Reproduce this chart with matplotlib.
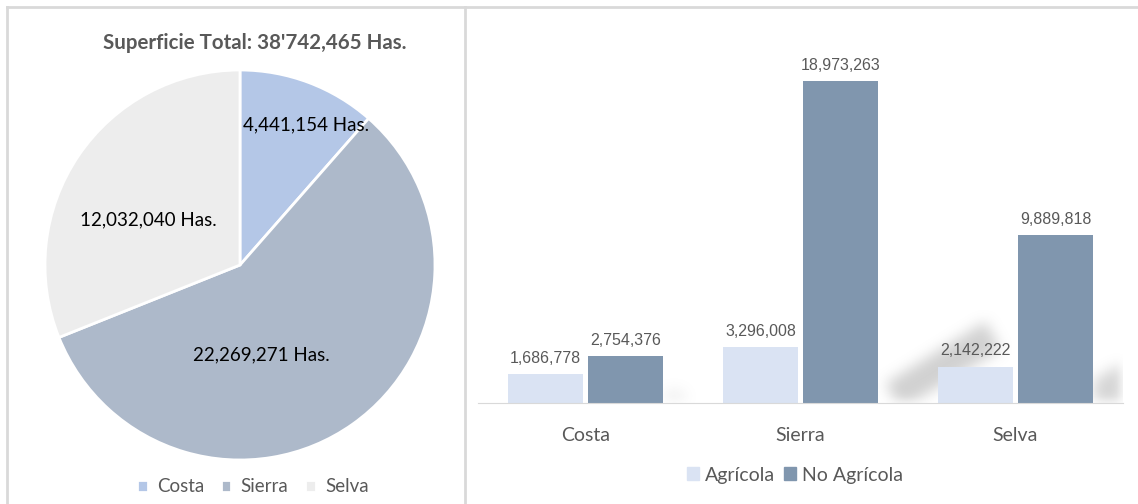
import matplotlib.pyplot as plt
import numpy as np
from matplotlib.patches import Patch
from matplotlib.path import Path

# pie data
regions = ["Costa", "Sierra", "Selva"]
superficie = [4441154, 22269271, 12032040]
pie_colors = ["#b4c7e7", "#adb9ca", "#ededed"]

# bar data
agricola = [1686778, 3296008, 2142222]
no_agricola = [2754376, 18973263, 9889818]
series_names = ["Agrícola", "No Agrícola"]
bar_colors = ["#dae3f3", "#8096ae"]

W, H = 1138, 504
fig = plt.figure(figsize=(W / 100, H / 100), dpi=100)
gray = "#595959"

# panel borders
border = "#d9d9d9"
fig.add_artist(plt.Line2D([7 / W, 1], [1 - 7 / H] * 2, color=border, lw=2))
fig.add_artist(plt.Line2D([7 / W] * 2, [0, 1 - 7 / H], color=border, lw=2))
fig.add_artist(plt.Line2D([465 / W] * 2, [0, 1 - 7 / H], color=border, lw=2))

# ---- pie ----
ax1 = fig.add_axes([45 / W, 1 - 460 / H, 390 / W, 390 / H])
wedges, _ = ax1.pie(superficie, colors=pie_colors, startangle=90, counterclock=False,
                    wedgeprops=dict(edgecolor="white", linewidth=2))
ax1.set_xlim(-1, 1)
ax1.set_ylim(-1, 1)
ax1.set_aspect("equal")
label_pos = [(0.34, 0.72), (0.11, -0.46), (-0.47, 0.23)]
for v, (x, y) in zip(superficie, label_pos):
    ax1.text(x, y, f"{v:,} Has.", ha="center", va="center", fontsize=13.5,
             family="Lato", color="black")
fig.text(255 / W, 1 - 43 / H, "Superficie Total: 38'742,465 Has.", ha="center", va="center",
         fontsize=14.8, fontweight="bold", color=gray, family="Lato")
fig.legend(wedges, regions, loc="center", bbox_to_anchor=(253 / W, 1 - 487 / H),
           ncol=3, frameon=False, handlelength=0.55, handleheight=0.55,
           columnspacing=0.9, handletextpad=0.5, labelcolor=gray,
           prop={"family": "Lato", "size": 13.5})

# ---- bars ----
ax2 = fig.add_axes([478 / W, 1 - 403 / H, 645 / W, 373 / H])

# soft drop-shadow smudges seen behind the bars
nx, ny = 645, 373
gx, gy = np.meshgrid(np.arange(nx) + 478, 403 - np.arange(ny))
pts = np.column_stack([gx.ravel(), gy.ravel()])
mask = np.zeros(nx * ny)
for poly, strength in [([(885, 384), (985, 322), (1000, 350), (900, 410)], 1.0),
                       ([(1093, 410), (1130, 410), (1130, 360), (1093, 380)], 0.9),
                       ([(663, 410), (692, 410), (680, 390), (663, 392)], 0.35)]:
    mask += strength * Path(poly).contains_points(pts)
mask = mask.reshape(ny, nx)
k = np.ones(13) / 13
for _ in range(3):
    mask = np.apply_along_axis(lambda r: np.convolve(r, k, mode="same"), 1, mask)
    mask = np.apply_along_axis(lambda c: np.convolve(c, k, mode="same"), 0, mask)
rgba = np.zeros((ny, nx, 4))
rgba[..., :3] = 0.6
rgba[..., 3] = np.clip(mask, 0, 1) * 0.45
ax2.imshow(rgba, extent=[-0.5, 2.5, 0, 22e6], origin="lower", aspect="auto", zorder=0)

x = np.arange(len(regions))
bw = 0.353
off = 0.186
b1 = ax2.bar(x - off, agricola, bw, color=bar_colors[0], label=series_names[0], zorder=2)
b2 = ax2.bar(x + off, no_agricola, bw, color=bar_colors[1], label=series_names[1], zorder=2)
for bars, vals in [(b1, agricola), (b2, no_agricola)]:
    for r, v in zip(bars, vals):
        ax2.text(r.get_x() + r.get_width() / 2, v + 500000, f"{v:,}", ha="center", va="bottom",
                 fontsize=11.5, color=gray, family="Liberation Sans", zorder=3)
ax2.set_xlim(-0.5, 2.5)
ax2.set_ylim(0, 22e6)
ax2.set_yticks([])
ax2.set_xticks(x)
ax2.set_xticklabels(regions, fontsize=14, color=gray, family="Lato")
ax2.tick_params(axis="x", length=0, pad=17)
for s in ["top", "left", "right"]:
    ax2.spines[s].set_visible(False)
ax2.spines["bottom"].set_color("#d9d9d9")
fig.legend(handles=[Patch(color=c) for c in bar_colors], labels=series_names, loc="center",
           bbox_to_anchor=(795 / W, 1 - 475 / H), ncol=2, frameon=False,
           handlelength=0.6, handleheight=0.6, handletextpad=0.3, columnspacing=0.5,
           labelcolor=gray, prop={"family": "Lato", "size": 14})

fig.savefig("out.png", dpi=100, facecolor="white")
